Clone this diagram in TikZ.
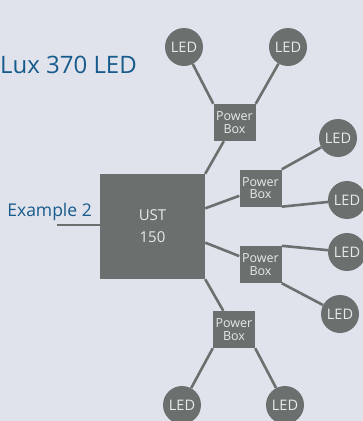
\documentclass[tikz,border=0pt]{standalone}
\usepackage{fontspec}
\setmainfont{Open Sans}
\definecolor{bgcol}{HTML}{E0E3EC}
\definecolor{boxgray}{HTML}{6B706F}
\definecolor{luxblue}{HTML}{175A8C}
\definecolor{lbltext}{HTML}{E6EAE9}

\begin{document}
\begin{tikzpicture}[x=1pt,y=-1pt,
    led/.style={circle,fill=boxgray,text=lbltext,minimum size=38pt,inner sep=0pt,
      font=\fontsize{14.5}{15}\selectfont},
    pbox/.style={rectangle,fill=boxgray,text=lbltext,minimum width=42pt,minimum height=37pt,
      inner sep=0pt,align=center,font=\fontsize{12.5}{12.5}\selectfont},
    heading/.style={anchor=base east,inner sep=0pt,text=luxblue},
    wire/.style={draw=boxgray,line width=2.6pt}]
      \useasboundingbox (0,0) rectangle (363,421);
      \clip (0,0) rectangle (363,421);
      \fill[bgcol] (0,0) rectangle (363,421);
      % titles
      \node[heading,font=\fontsize{24}{28}\selectfont] (title) at (137,73) {Lux 370 LED};
      \node[heading,font=\fontsize{17.5}{20}\selectfont] (example) at (92,216) {Example 2};
      % controller
      \node[rectangle,fill=boxgray,text=lbltext,minimum size=105pt,inner sep=0pt,align=center,
        font=\fontsize{15}{22}\selectfont] (ust) at (152.5,226.5) {UST\\150};
      % power boxes
      \node[pbox] (pbtop) at (234.5,122.5) {Power\\Box};
      \node[pbox] (pbup)  at (260.5,188)   {Power\\Box};
      \node[pbox] (pblow) at (260.5,264.5) {Power\\Box};
      \node[pbox] (pbbot) at (234,329.5)   {Power\\Box};
      % lamps
      \node[led] (ledtl) at (184,47)  {LED};
      \node[led] (ledtr) at (288,47)  {LED};
      \node[led] (ledra) at (338,138) {LED};
      \node[led] (ledrb) at (347,200) {LED};
      \node[led] (ledrc) at (347,252) {LED};
      \node[led] (ledrd) at (340,314) {LED};
      \node[led] (ledbl) at (182,405) {LED};
      \node[led] (ledbr) at (285,405) {LED};
      % wiring
      \coordinate (exend) at (57,225);
      \draw[wire] (exend) -- (exend -| ust.west);
      \draw[wire] (ust.north east) -- (pbtop);
      \draw[wire] (ust.19) -- (pbup);
      \draw[wire] (ust.-17) -- (pblow);
      \draw[wire] (ust.south east) -- (pbbot);
      \draw[wire] (pbtop.north west) -- (ledtl);
      \draw[wire] (pbtop.north east) -- (ledtr);
      \draw[wire] (pbup.north east) -- (ledra);
      \draw[wire] (pbup.south east) -- (ledrb);
      \draw[wire] (pblow.north east) -- (ledrc);
      \draw[wire] (pblow.south east) -- (ledrd);
      \draw[wire] (pbbot.south west) -- (ledbl);
      \draw[wire] (pbbot.south east) -- (ledbr);
\end{tikzpicture}
\end{document}
